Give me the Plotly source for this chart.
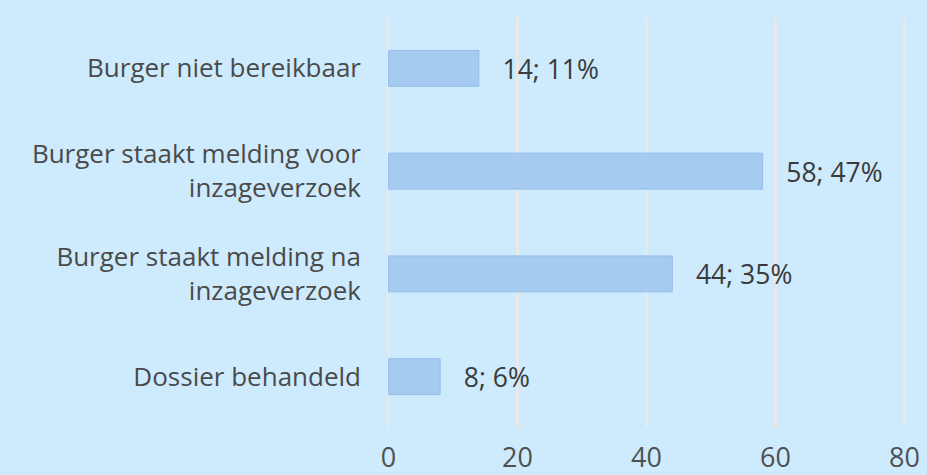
import plotly.graph_objects as go

categories = ["Burger niet bereikbaar",
              "Burger staakt melding voor<br>inzageverzoek",
              "Burger staakt melding na<br>inzageverzoek",
              "Dossier behandeld"]
values = [14, 58, 44, 8]
percents = [11, 47, 35, 6]
tick_vals = [0, 20, 40, 60, 80]

labels = [f"   {v}; {p}%" for v, p in zip(values, percents)]

fig = go.Figure(go.Bar(
    y=categories, x=values, orientation="h",
    marker=dict(color="#a6cbf0", line=dict(color="#96bde8", width=1)),
    text=labels, textposition="outside", cliponaxis=False,
    textfont=dict(color="#3a3a3a", size=28, family="Open Sans"),
    width=0.35,
))

fig.update_layout(
    width=927, height=475,
    margin=dict(l=386, r=20, t=17, b=47, autoexpand=False),
    paper_bgcolor="#cdebfd", plot_bgcolor="#cdebfd",
    font=dict(family="Open Sans", color="#4a4a4a", size=26),
    showlegend=False,
    xaxis=dict(range=[-0.4, 80.4], tickvals=tick_vals, showgrid=True,
               gridcolor="#e8e8e8", gridwidth=3, zeroline=False,
               ticks="outside", ticklen=6, tickcolor="rgba(0,0,0,0)",
               tickfont=dict(size=27, color="#505050"), fixedrange=True,
               automargin=False),
    yaxis=dict(autorange="reversed", showgrid=False, ticks="",
               ticklabelstandoff=24, automargin=False,
               tickfont=dict(size=26, color="#4a4a4a")),
)

fig.write_html("out.html")
